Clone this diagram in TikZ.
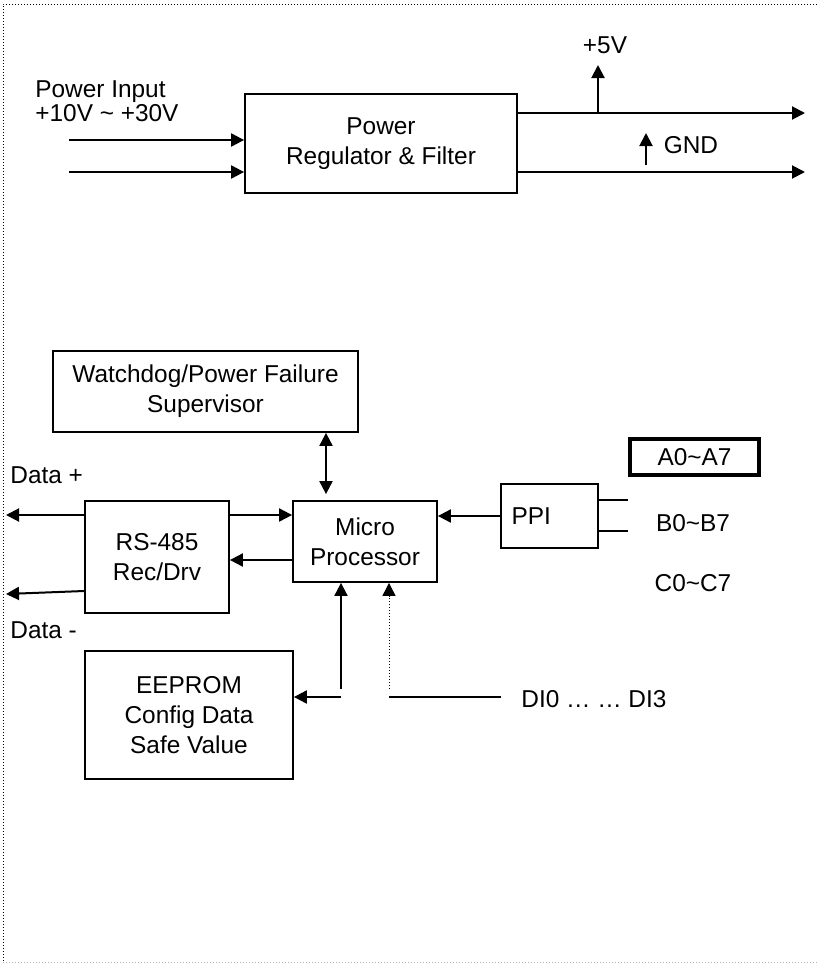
\documentclass[tikz,border=0pt]{standalone}
\usepackage{fontspec}
\setmainfont{Liberation Sans}
\usetikzlibrary{arrows.meta,positioning}

\begin{document}
\begin{tikzpicture}[x=0.5pt, y=-0.5pt,
    every node/.style={font=\fontsize{12.2}{15}\selectfont},
    blk/.style={draw, line width=0.9pt, align=center, inner sep=0pt},
    txt/.style={inner sep=0pt},
    wire/.style={line width=1pt},
    arr/.style={wire, -{Triangle[length=6.5pt, width=6.5pt]}},
    darr/.style={wire, {Triangle[length=6.5pt, width=6.5pt]}-{Triangle[length=6.5pt, width=6.5pt]}}]
    \useasboundingbox (0,0) rectangle (817,964);
    \draw[densely dotted, line width=0.5pt] (817,4) -- (3,4) -- (3,962);
    \draw[densely dotted, line width=0.5pt, gray!60] (3,962) -- (817,962);

    % power supply
    \node[blk, minimum width=136pt, minimum height=49.5pt] (reg) at (381,143.5) {Power\\Regulator \& Filter};
    \node[txt, anchor=west, align=left, font=\fontsize{12.2}{12}\selectfont] (pin) at (35,101) {Power Input\\+10V \textasciitilde{} +30V};
    \coordinate (in1) at (69,140);
    \coordinate (in2) at (69,172);
    \draw[arr] (in1) -- (in1 -| reg.west);
    \draw[arr] (in2) -- (in2 -| reg.west);
    \coordinate (out1) at (805,113);
    \coordinate (out2) at (805,172);
    \draw[arr] (out1 -| reg.east) -- (out1);
    \draw[arr] (out2 -| reg.east) -- (out2);
    \coordinate (v5) at (598,65);
    \draw[arr] (v5 |- out1) -- (v5);
    \node[txt] (p5v) at (605,45) {+5V};
    \coordinate (gnda) at (646,165);
    \coordinate (gndb) at (646,133);
    \draw[arr] (gnda) -- (gndb);
    \node[txt] (gnd) at (691,145) {GND};

    % controller
    \node[blk, minimum width=152.5pt, minimum height=40.5pt] (wdog) at (205.5,391.5) {Watchdog/Power Failure\\Supervisor};
    \node[blk, minimum width=72pt, minimum height=56pt] (rs) at (157,557) {RS-485\\Rec/Drv};
    \node[blk, minimum width=72pt, minimum height=40.5pt] (mp) at (365,541.5) {Micro\\Processor};
    \node[blk, minimum width=48.5pt, minimum height=32pt, text width=38pt, align=left] (ppi) at (549.5,516) {PPI};
    \node[blk, line width=1.8pt, minimum width=64.5pt, minimum height=18pt] (a0) at (694.5,457) {A0\textasciitilde A7};
    \node[txt] (b0) at (693,523) {B0\textasciitilde B7};
    \node[txt] (c0) at (693,583) {C0\textasciitilde C7};
    \node[blk, minimum width=104pt, minimum height=64pt] (eeprom) at (189,715) {EEPROM\\Config Data\\Safe Value};
    \node[txt, anchor=west] (dplus) at (10,475) {Data +};
    \node[txt, anchor=west] (dminus) at (10,630) {Data -};
    \node[txt, anchor=west] (di) at (521,699) {DI0 … … DI3};

    \coordinate (wd) at (326,0);
    \draw[darr] (wdog.south -| wd) -- ([yshift=3pt]mp.north -| wd);
    \coordinate (dp) at (6,515);
    \coordinate (dm) at (6,594);
    \draw[arr] (rs.west |- dp) -- (dp);
    \draw[arr] ([yshift=-17pt]rs.west) -- (dm);
    \draw[arr] (rs.east |- dp) -- (mp.west |- dp);
    \draw[arr] ([yshift=-9.25pt]mp.west) -- ([yshift=-9.25pt]mp.west -| rs.east);
    \draw[arr] (ppi.west) -- (ppi.west -| mp.east);
    \draw[wire] ([yshift=8pt]ppi.east) -- ([yshift=8pt]ppi.east -| a0.west);
    \draw[wire] ([yshift=-7.5pt]ppi.east) -- ([yshift=-7.5pt]ppi.east -| a0.west);

    \coordinate (ev) at (341,689);
    \coordinate (eh) at (341,697);
    \draw[arr] (ev) -- (ev |- mp.south);
    \draw[arr] (eh) -- (eh -| eeprom.east);
    \coordinate (dv) at (389,689);
    \coordinate (dh) at (389,697);
    \coordinate (dhe) at (501,697);
    \draw[wire, line width=0.5pt, densely dotted, -{Triangle[length=6.5pt, width=6.5pt]}] (dv) -- (dv |- mp.south);
    \draw[wire] (dh) -- (dhe);
\end{tikzpicture}
\end{document}
